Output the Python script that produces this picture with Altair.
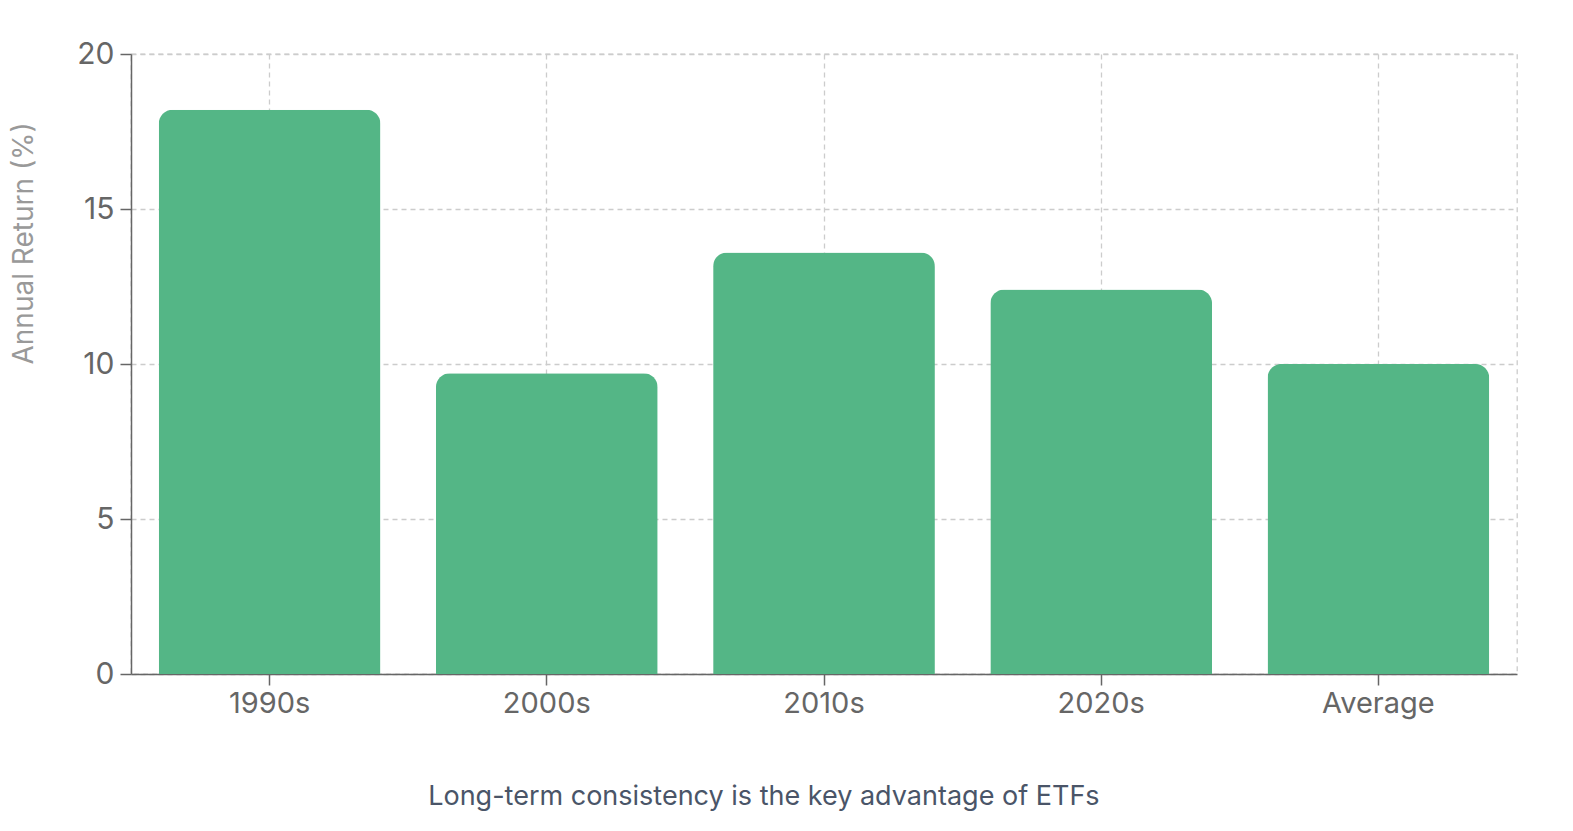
import altair as alt
import pandas as pd

categories = ["1990s", "2000s", "2010s", "2020s", "Average"]
returns = [18.2, 9.7, 13.6, 12.4, 10.0]

df = pd.DataFrame({"period": categories, "ret": returns})

FONT = "Inter"

chart = alt.Chart(df).mark_bar(
    color="#54b686", cornerRadiusTopLeft=14, cornerRadiusTopRight=14
).encode(
    x=alt.X("period:N", sort=categories, title=None,
            scale=alt.Scale(paddingInner=0.2, paddingOuter=0.1),
            axis=alt.Axis(labelAngle=0, labelFontSize=29, labelColor="#666666",
                          labelPadding=4, tickSize=11, tickColor="#666666",
                          domainColor="#666666", domainWidth=1.5, tickWidth=1.5,
                          grid=True, gridColor="#cccccc", gridDash=[5, 4],
                          gridWidth=1.3)),
    y=alt.Y("ret:Q", title="Annual Return (%)",
            scale=alt.Scale(domain=[0, 20]),
            axis=alt.Axis(values=[0, 5, 10, 15, 20], labelFontSize=30,
                          labelColor="#666666", labelPadding=6, tickSize=11,
                          tickColor="#666666", tickWidth=1.5, domainColor="#666666",
                          domainWidth=1.5, titleFontSize=28, titleColor="#999999",
                          titleFontWeight="normal", titlePadding=38,
                          titleAlign="left",
                          gridColor="#cccccc", gridDash=[5, 4], gridWidth=1.3)),
).properties(
    width=1386, height=620,
    title=alt.TitleParams("Long-term consistency is the key advantage of ETFs",
                          orient="bottom", anchor="middle", frame="bounds",
                          fontSize=27, fontWeight="normal", color="#4a5568",
                          offset=66),
    padding={"left": 123, "top": 46, "right": 40, "bottom": 147},
    autosize=alt.AutoSizeParams(type="none"),
).configure(font=FONT).configure_view(
    stroke="#cccccc", strokeDash=[5, 4], strokeWidth=1.3
)

chart.save("out.html", embed_options={"renderer": "svg", "actions": False})
